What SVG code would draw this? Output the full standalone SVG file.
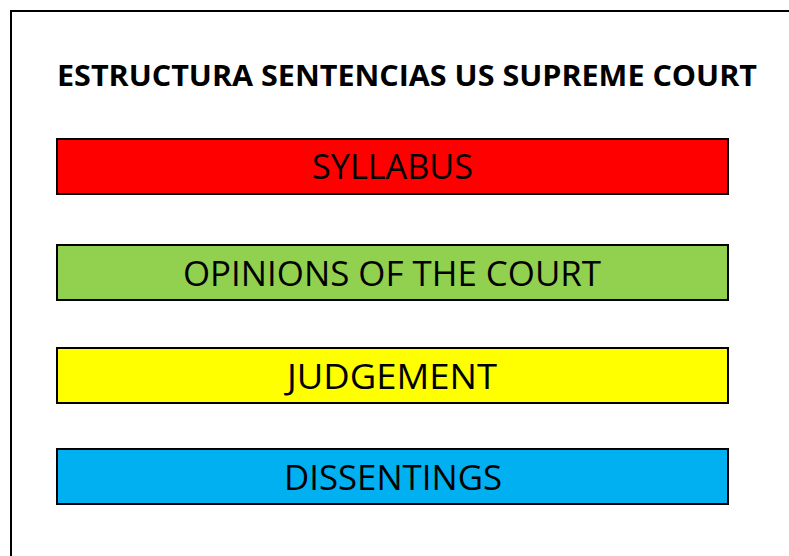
<svg xmlns="http://www.w3.org/2000/svg" width="789" height="556" viewBox="0 0 789 556">
<style>
.box{stroke:#000;stroke-width:2}
.lbl{font-family:"Open Sans","Liberation Sans",Arial,sans-serif;font-size:34px;fill:#000}
.title{font-family:"Open Sans","Liberation Sans",Arial,sans-serif;font-size:28px;font-weight:bold;fill:#000}
</style>
<rect width="789" height="556" fill="#fff"/>
<path d="M11,556 V11 H789" fill="none" stroke="#000" stroke-width="2"/>
<text class="title" x="57" y="86" textLength="700" lengthAdjust="spacingAndGlyphs">ESTRUCTURA SENTENCIAS US SUPREME COURT</text>
<g id="syllabus">
<rect class="box" x="57" y="139" width="671" height="55" fill="#ff0000"/>
<text class="lbl" x="312" y="179" textLength="161" lengthAdjust="spacingAndGlyphs">SYLLABUS</text>
</g>
<g id="opinions">
<rect class="box" x="57" y="245" width="671" height="55" fill="#92d050"/>
<text class="lbl" x="183" y="286" textLength="418" lengthAdjust="spacingAndGlyphs">OPINIONS OF THE COURT</text>
</g>
<g id="judgement">
<rect class="box" x="57" y="348" width="671" height="55" fill="#ffff00"/>
<text class="lbl" x="287" y="389" textLength="210" lengthAdjust="spacingAndGlyphs">JUDGEMENT</text>
</g>
<g id="dissentings">
<rect class="box" x="57" y="449" width="671" height="55" fill="#00b0f0"/>
<text class="lbl" x="284" y="490" textLength="218" lengthAdjust="spacingAndGlyphs">DISSENTINGS</text>
</g>
<g id="connectors"></g>
</svg>
